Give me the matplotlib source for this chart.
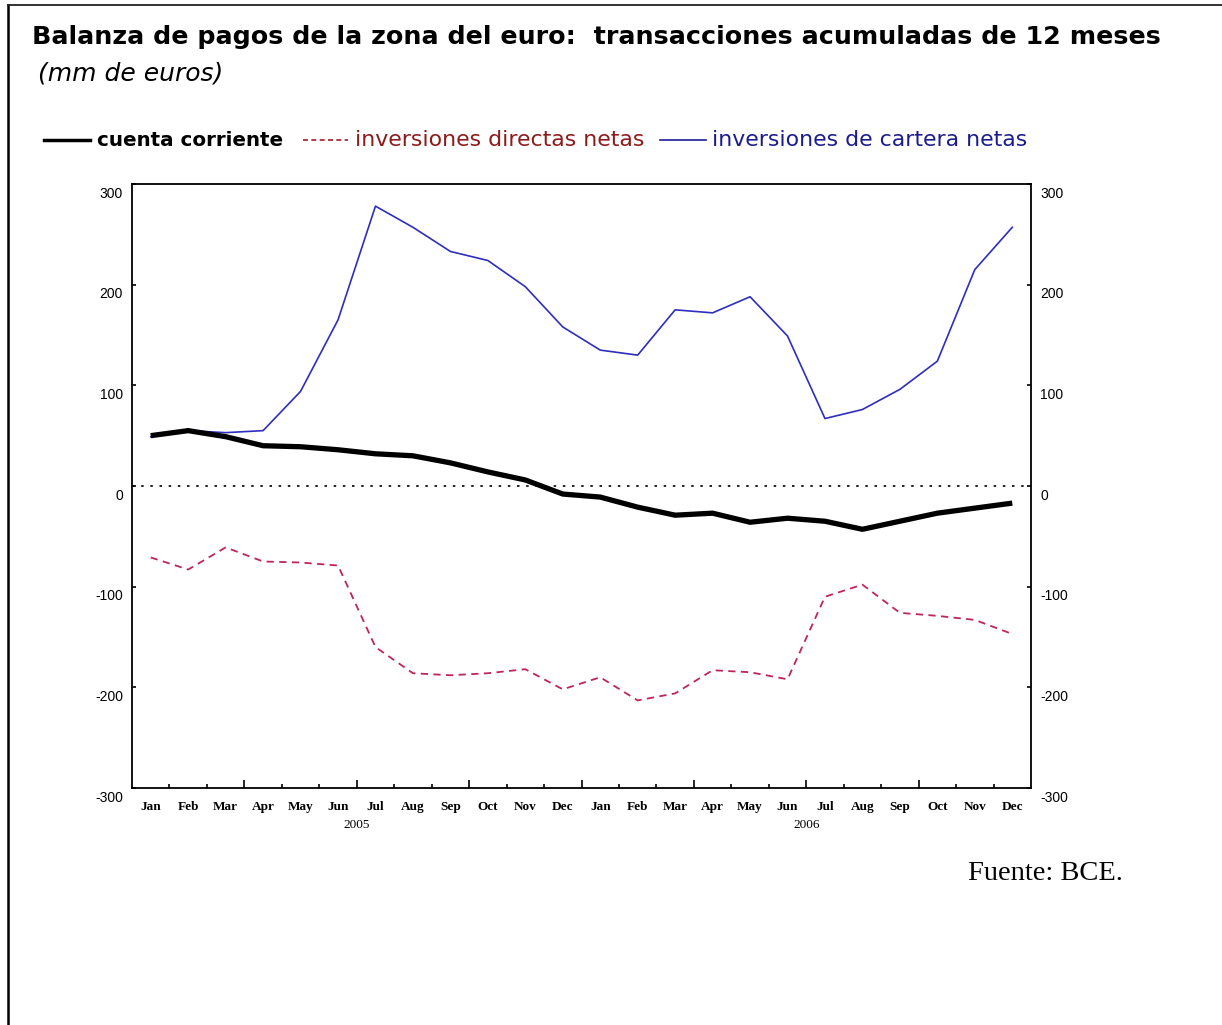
import matplotlib
matplotlib.use("Agg")
import matplotlib.pyplot as plt
from matplotlib.transforms import ScaledTranslation, blended_transform_factory
from matplotlib.lines import Line2D

months = ["Jan", "Feb", "Mar", "Apr", "May", "Jun", "Jul", "Aug", "Sep", "Oct", "Nov", "Dec"] * 2
years = ["2005", "2006"]
cuenta_corriente = [50, 55, 49, 40, 39, 36, 32, 30, 23, 14, 6, -8,
                    -11, -21, -29, -27, -36, -32, -35, -43, -35, -27, -22, -17]
inv_directas = [-71, -83, -61, -75, -76, -79, -160, -186, -188, -186, -182, -202,
                -190, -213, -206, -183, -185, -192, -110, -98, -126, -129, -133, -147]
inv_cartera = [49, 55, 53, 55, 94, 165, 278, 257, 233, 224, 198, 158,
               135, 130, 175, 172, 188, 149, 67, 76, 96, 124, 215, 257]
yticks = [-300, -200, -100, 0, 100, 200, 300]

W, H = 1222, 1025
fig = plt.figure(figsize=(W / 100, H / 100), dpi=100)
fig.patch.set_facecolor("white")

# page frame
fig.add_artist(Line2D([8 / W, 8 / W], [0, 1 - 5 / H], color="black", lw=1.8))
fig.add_artist(Line2D([8 / W, 1], [1 - 5 / H, 1 - 5 / H], color="#222222", lw=1.3))

ax = fig.add_axes([132 / W, 1 - 788 / H, (1031 - 132) / W, (788 - 184) / H])
x = [i + 0.5 for i in range(len(months))]

ax.axhline(0, color="black", lw=1.2, ls=(0, (1.5, 4)), zorder=1)
ax.plot(x, inv_directas, color="#C0245A", lw=1.3, ls=(0, (4, 3)), zorder=2)
ax.plot(x, inv_cartera, color="#2E2EBE", lw=1.2, zorder=3)
ax.plot(x, cuenta_corriente, color="black", lw=3.8, zorder=4, solid_capstyle="butt")

ax.set_xlim(0, 24)
ax.set_ylim(-300, 300)
for s in ax.spines.values():
    s.set_linewidth(1.3)

ax.set_xticks([3, 6, 9, 12, 15, 18, 21])
ax.set_xticks([i for i in range(1, 24) if i % 3 != 0], minor=True)
ax.tick_params(axis="x", which="major", direction="in", length=6, width=1.2, labelbottom=False)
ax.tick_params(axis="x", which="minor", direction="in", length=3, width=1.2)

ax.set_yticks(yticks)
ax.set_yticklabels([str(v) for v in yticks])
ax.tick_params(axis="y", which="major", direction="in", length=3, width=1.2,
               left=True, right=True, labelleft=True, labelright=True,
               labelsize=10, pad=6.5)
off = ScaledTranslation(0, -8 / 100, fig.dpi_scale_trans)
for t in ax.yaxis.get_major_ticks():
    for lab in (t.label1, t.label2):
        lab.set_transform(lab.get_transform() + off)
        lab.set_fontfamily("Liberation Sans")
        lab.set_fontsize(10)

trans = blended_transform_factory(ax.transData, ax.transAxes)
for xi, m in zip(x, months):
    ax.text(xi, -19 / 604, m, transform=trans, ha="center", va="center",
            fontsize=9.5, family="Liberation Serif", fontweight="bold")
for k, yr in enumerate(years):
    ax.text(6 + 12 * k, -37 / 604, yr, transform=trans, ha="center", va="center",
            fontsize=9.5, family="Liberation Serif")

# title & subtitle
fig.text(32 / W, 1 - 37 / H, "Balanza de pagos de la zona del euro:  transacciones acumuladas de 12 meses",
         fontsize=18.3, fontweight="bold", family="DejaVu Sans", ha="left", va="center")
fig.text(38 / W, 1 - 73 / H, "(mm de euros)", fontsize=18, style="italic",
         family="DejaVu Sans", ha="left", va="center")

# legend row
ly = 1 - 140 / H
fig.add_artist(Line2D([44 / W, 90 / W], [ly, ly], color="black", lw=2.5))
fig.text(97 / W, ly, "cuenta corriente", fontsize=14.3, fontweight="bold",
         family="DejaVu Sans", ha="left", va="center")
fig.add_artist(Line2D([303 / W, 348 / W], [ly, ly], color="#A01C28", lw=1.2, ls=(0, (3, 2))))
fig.text(355 / W, ly, "inversiones directas netas", fontsize=15.8, color="#8E1B1B",
         family="DejaVu Sans", ha="left", va="center")
fig.add_artist(Line2D([660 / W, 706 / W], [ly, ly], color="#1C1C9A", lw=1.2))
fig.text(712 / W, ly, "inversiones de cartera netas", fontsize=15.8, color="#1C1C8E",
         family="DejaVu Sans", ha="left", va="center")

fig.text(968 / W, 1 - 873 / H, "Fuente: BCE.", fontsize=20.5, family="Liberation Serif",
         ha="left", va="center")

fig.savefig("out.png", dpi=100, facecolor="white")
